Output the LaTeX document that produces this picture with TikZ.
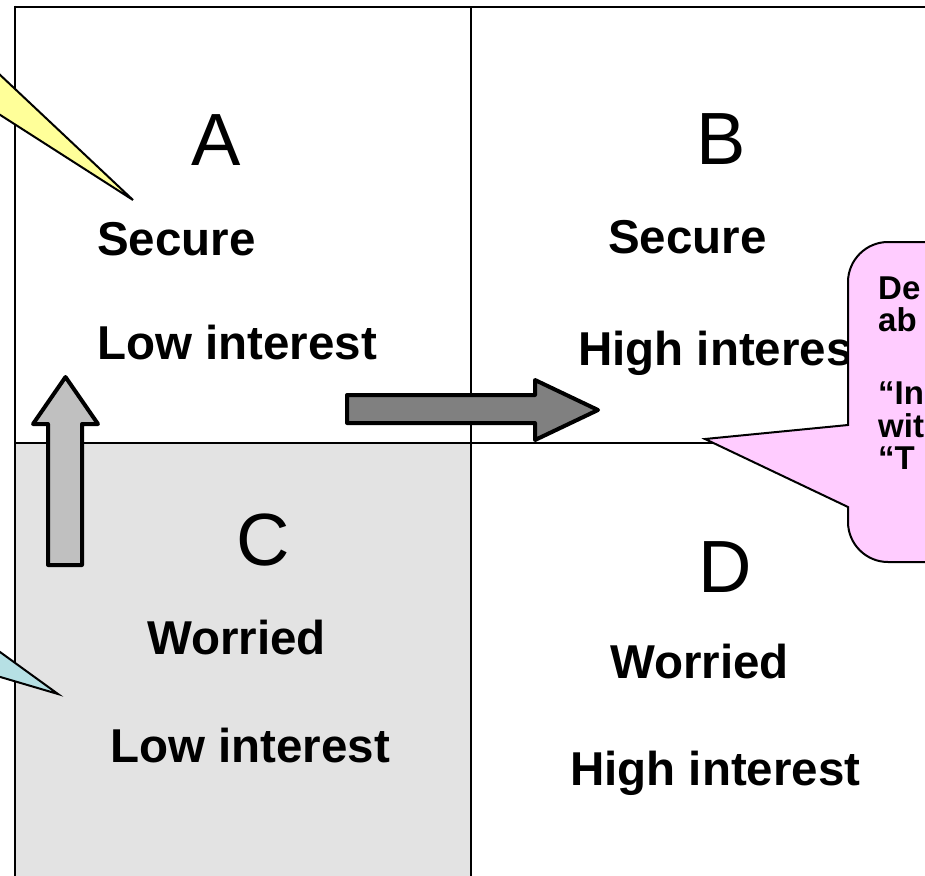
\documentclass[tikz,border=0pt]{standalone}
\usepackage{fontspec}
\setmainfont{Liberation Sans}
\definecolor{cgray}{HTML}{E3E3E3}
\definecolor{cyellow}{HTML}{FFFF99}
\definecolor{cblue}{HTML}{B6E0E4}
\definecolor{cpink}{HTML}{FFCCFF}
\definecolor{arrowlight}{HTML}{C0C0C0}
\definecolor{arrowdark}{HTML}{808080}
\begin{document}
\begin{tikzpicture}[x=1pt,y=-1pt,
  gridline/.style={line width=2.8pt,black},
  letter/.style={font=\fontsize{74}{80}\selectfont,anchor=base,inner sep=0pt},
  lbl/.style={font=\bfseries\fontsize{47.5}{54}\selectfont,anchor=base west,inner sep=0pt},
  calltext/.style={font=\bfseries\fontsize{33}{38}\selectfont,anchor=base west,inner sep=0pt},
  blockarrow/.style={draw=black,line width=4pt,line join=round},
  tail/.style={draw=black,line width=2pt,line join=miter}]
\useasboundingbox (0,0) rectangle (925,875);
\clip (0,0) rectangle (925,875);
\fill[white] (0,0) rectangle (925,875);
% shaded quadrant C
\fill[cgray] (14,443) rectangle (471,880);
% grid
\draw[gridline] (15,7) -- (930,7);
\draw[gridline] (15,5.6) -- (15,880);
\draw[gridline] (471,7) -- (471,880);
\draw[gridline] (15,443) -- (930,443);
% quadrant texts
\node[letter] (lA) at (216,165) {A};
\node[letter] (lB) at (721,164) {B};
\node[letter] (lC) at (263,565) {C};
\node[letter] (lD) at (725,592) {D};
\node[lbl] (a1) at (97,255) {Secure};
\node[lbl] (a2) at (97,359) {Low interest};
\node[lbl] (b1) at (608,253) {Secure};
\node[lbl] (b2) at (578,365) {High interest};
\node[lbl] (c1) at (147,654) {Worried};
\node[lbl] (c2) at (110,762) {Low interest};
\node[lbl] (d1) at (610,678) {Worried};
\node[lbl] (d2) at (570,785) {High interest};
% block arrows
\filldraw[blockarrow,fill=arrowlight] (48,565) -- (48,424) -- (33,424) -- (65.5,377) -- (98,424) -- (82,424) -- (82,565) -- cycle;
\filldraw[blockarrow,fill=arrowdark] (347,395) -- (535,395) -- (535,380) -- (598,410) -- (535,440) -- (535,423) -- (347,423) -- cycle;
% callout tails
\filldraw[tail,fill=cyellow] (-20,56) -- (133,200) -- (-20,102) -- cycle;
\filldraw[tail,fill=cblue] (-20,637.5) -- (58,694) -- (-20,671) -- cycle;
% pink callout
\filldraw[tail,fill=cpink] (705,439) -- (848,425) -- (848,282) .. controls (848,260) and (866,242) .. (888,242) -- (960,242) -- (960,562) -- (888,562) .. controls (866,562) and (848,544) .. (848,522) -- (848,507) -- cycle;
\node[calltext] (p1) at (878,299) {De};
\node[calltext] (p2) at (878,331) {ab};
\node[calltext] (p3) at (878,404) {“In};
\node[calltext] (p4) at (878,437) {wit};
\node[calltext] (p5) at (878,469) {“T};
\end{tikzpicture}
\end{document}
